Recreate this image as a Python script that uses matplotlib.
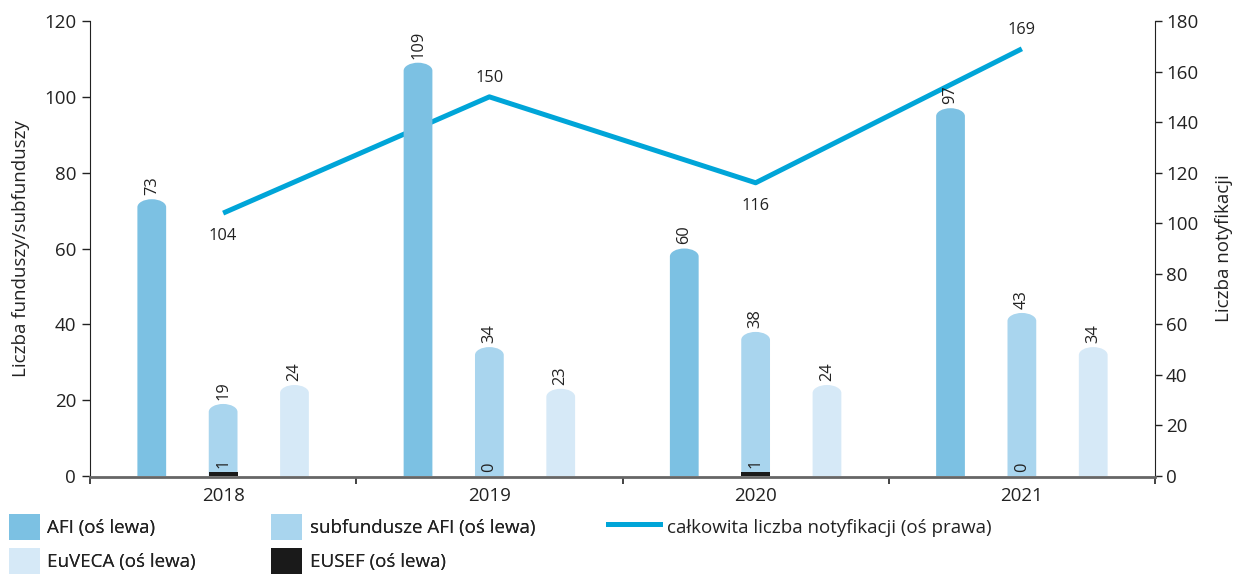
import matplotlib
matplotlib.use("Agg")
import matplotlib.pyplot as plt
import numpy as np
from matplotlib.patches import Patch, PathPatch
from matplotlib.lines import Line2D
from matplotlib.path import Path

plt.rcParams['font.family'] = ['Open Sans', 'DejaVu Sans']

years = ['2018', '2019', '2020', '2021']
afi = [73, 109, 60, 97]
subfundusze = [19, 34, 38, 43]
euveca = [24, 23, 24, 34]
eusef = [1, 0, 1, 0]
notyfikacje = [104, 150, 116, 169]

c_afi = '#7cc1e3'
c_sub = '#a9d5ee'
c_euv = '#d6e9f7'
c_eusef = '#1a1a1a'
c_line = '#00a5d8'
c_text = '#222222'

FS = 13.5
LFS = 11.8

fig = plt.figure(figsize=(12.35, 5.76), dpi=100)
ax = fig.add_axes([90/1235, 1-476/576, (1155-90)/1235, (476-21)/576])
ax2 = ax.twinx()
ax.set_zorder(ax2.get_zorder() + 1)
ax.patch.set_visible(False)

x = np.arange(len(years))
off = 0.268
w = 0.108
cap = 2.1  # rounded cap height in left-axis units


def rounded(container, color, cap_h):
    for r in container.patches:
        x0 = r.get_x(); ww = r.get_width(); h = r.get_height()
        r.set_visible(False)
        if h <= 0:
            continue
        if h > cap_h * 2:
            k = 0.5523
            xm = x0 + ww / 2
            verts = [(x0, 0), (x0 + ww, 0), (x0 + ww, h - cap_h),
                     (x0 + ww, h - cap_h + k * cap_h), (xm + k * ww / 2, h), (xm, h),
                     (xm - k * ww / 2, h), (x0, h - cap_h + k * cap_h), (x0, h - cap_h),
                     (x0, 0)]
            codes = [Path.MOVETO, Path.LINETO, Path.LINETO,
                     Path.CURVE4, Path.CURVE4, Path.CURVE4,
                     Path.CURVE4, Path.CURVE4, Path.CURVE4,
                     Path.CLOSEPOLY]
        else:
            verts = [(x0, 0), (x0 + ww, 0), (x0 + ww, h), (x0, h), (x0, 0)]
            codes = [Path.MOVETO, Path.LINETO, Path.LINETO, Path.LINETO, Path.CLOSEPOLY]
        ax.add_patch(PathPatch(Path(verts, codes), facecolor=color, edgecolor='none', zorder=2))


b1 = ax.bar(x - off, afi, w, color=c_afi)
b2 = ax.bar(x, subfundusze, w, color=c_sub)
b3 = ax.bar(x + off, euveca, w, color=c_euv)
b4 = ax.bar(x, eusef, w, color=c_eusef)
rounded(b1, c_afi, cap)
rounded(b2, c_sub, cap)
rounded(b3, c_euv, cap)
rounded(b4, c_eusef, cap)

for xs, vals in [(x - off, afi), (x, subfundusze), (x + off, euveca)]:
    for xi, v in zip(xs, vals):
        if v > 0:
            ax.annotate(str(v), (xi, v), xytext=(0, 3), textcoords='offset points',
                        ha='center', va='bottom', rotation=90, fontsize=LFS,
                        color=c_text, zorder=6)
for xi, v in zip(x, eusef):
    ax.annotate(str(v), (xi, v), xytext=(0, 3), textcoords='offset points',
                ha='center', va='bottom', rotation=90, fontsize=LFS,
                color=c_text, zorder=6)

ax2.plot(x, notyfikacje, color=c_line, lw=3.6, solid_capstyle='butt', zorder=5)
for i, (xi, v) in enumerate(zip(x, notyfikacje)):
    if i % 2 == 0:
        ax2.annotate(str(v), (xi, v), xytext=(0, -11), textcoords='offset points',
                     ha='center', va='top', fontsize=LFS, color=c_text)
    else:
        ax2.annotate(str(v), (xi, v), xytext=(0, 8), textcoords='offset points',
                     ha='center', va='bottom', fontsize=LFS, color=c_text)

ax.set_xlim(-0.5, 3.5)
ax.set_ylim(0, 120)
ax2.set_ylim(0, 180)
ax.set_yticks(np.arange(0, 121, 20))
ax2.set_yticks(np.arange(0, 181, 20))
ax.set_xticks(np.arange(-0.5, 3.6, 1))
ax.set_xticklabels([])
ax.set_xticks(x, minor=True)
ax.set_xticklabels(years, minor=True)
ax.tick_params(axis='x', which='minor', length=0, pad=7, labelsize=FS, labelcolor=c_text)
ax.tick_params(axis='x', which='major', length=5, width=1.2, color='#222222')
ax.tick_params(axis='y', length=6, width=1, labelsize=FS, labelcolor=c_text, color='#222222', pad=4)
ax2.tick_params(axis='y', length=5, width=1, labelsize=FS, labelcolor=c_text, color='#222222', pad=3)

for a in (ax, ax2):
    a.spines['top'].set_visible(False)
ax.spines['right'].set_visible(False)
ax2.spines['left'].set_visible(False)
ax2.spines['bottom'].set_visible(False)
ax.spines['left'].set_color('#222222')
ax2.spines['right'].set_color('#222222')
ax.spines['bottom'].set_color('#666666')
ax.spines['bottom'].set_linewidth(2)
ax.spines['bottom'].set_position(('outward', 1))

ax.set_ylabel('Liczba funduszy/subfunduszy', fontsize=FS, color=c_text, labelpad=10)
ax2.set_ylabel('Liczba notyfikacji', fontsize=FS, color=c_text, labelpad=12)

handles = [Patch(facecolor=c_afi, label='AFI (oś lewa)'),
           Patch(facecolor=c_euv, label='EuVECA (oś lewa)'),
           Patch(facecolor=c_sub, label='subfundusze AFI (oś lewa)'),
           Patch(facecolor=c_eusef, label='EUSEF (oś lewa)')]
leg1 = fig.legend(handles=handles, ncol=2, loc='upper left',
                  bbox_to_anchor=(9/1235, 1-514/576), frameon=False,
                  fontsize=FS, handlelength=1.65, handleheight=1.75,
                  handletextpad=0.4, labelspacing=0.42, columnspacing=4.0,
                  borderaxespad=0, borderpad=0, labelcolor=c_text)
fig.add_artist(leg1)
leg2 = fig.legend(handles=[Line2D([], [], color=c_line, lw=3.6,
                                  label='całkowita liczba notyfikacji (oś prawa)')],
                  loc='upper left', bbox_to_anchor=(608/1235, 1-514/576), frameon=False,
                  fontsize=FS, handlelength=2.75, handleheight=1.75,
                  handletextpad=0.4, borderaxespad=0, borderpad=0, labelcolor=c_text)

fig.savefig('out.png', dpi=100)
